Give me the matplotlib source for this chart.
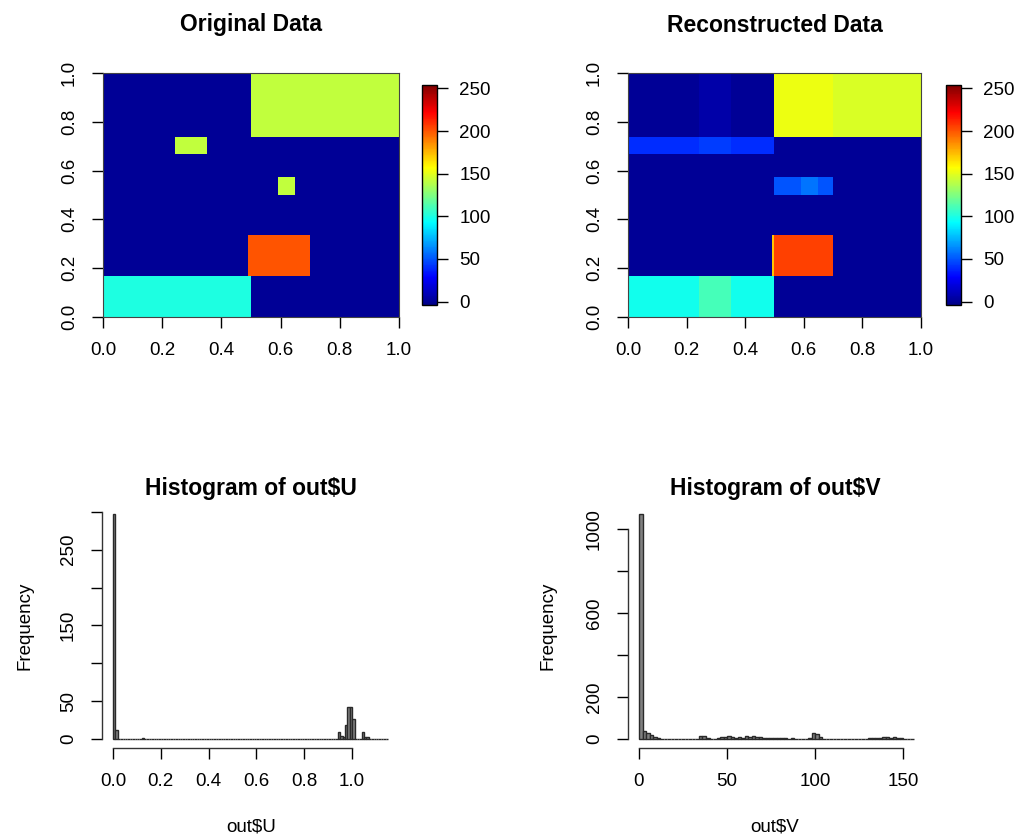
import numpy as np
import matplotlib
matplotlib.use("Agg")
import matplotlib.pyplot as plt
from matplotlib.colors import LinearSegmentedColormap

plt.rcParams['font.family'] = ['Liberation Sans', 'DejaVu Sans']

# --- heatmap blocks (x0, x1, y0, y1, value) ---
orig_x0 = [0.50, 0.245, 0.59, 0.49, 0.00]
orig_x1 = [1.00, 0.350, 0.65, 0.70, 0.50]
orig_y0 = [0.734, 0.664, 0.50, 0.166, 0.00]
orig_y1 = [1.000, 0.734, 0.57, 0.336, 0.166]
orig_val = [142, 142, 142, 200, 100]

rec_x0 = [0.245, 0.50, 0.70, 0.00, 0.245, 0.50, 0.59, 0.49, 0.50, 0.00, 0.245]
rec_x1 = [0.350, 0.70, 1.00, 0.50, 0.350, 0.70, 0.65, 0.50, 0.70, 0.50, 0.350]
rec_y0 = [0.734, 0.734, 0.734, 0.664, 0.664, 0.50, 0.50, 0.166, 0.166, 0.00, 0.00]
rec_y1 = [1.000, 1.000, 1.000, 0.734, 0.734, 0.57, 0.57, 0.336, 0.336, 0.166, 0.166]
rec_val = [6, 153, 148, 40, 44, 50, 58, 172, 205, 97, 110]

background = 1

# --- histogram of out$U (bin width 0.01, 0 .. 1.15) ---
u_bin_start = [0.00, 0.01, 0.12, 0.94, 0.95, 0.96, 0.97, 0.98, 0.99, 1.00, 1.04, 1.05, 1.06]
u_counts = [297, 12, 1, 9, 4, 2, 18, 42, 42, 27, 9, 3, 3]

# --- histogram of out$V (bin width 2, 0 .. 156) ---
v_counts = [1070, 36, 28, 17, 8, 3, 2, 1, 0, 1, 0, 1, 0, 1, 0, 1, 2, 12, 12, 4,
            0, 2, 3, 8, 10, 14, 10, 6, 8, 5, 14, 8, 14, 10, 8, 5, 4, 3, 5, 4,
            6, 3, 2, 3, 2, 1, 1, 2, 4, 28, 22, 10, 2, 1, 1, 0, 1, 0, 1, 0,
            1, 0, 2, 1, 2, 3, 4, 5, 6, 8, 9, 7, 8, 5, 3, 2, 1, 1]

# tim.colors-like palette
tim = LinearSegmentedColormap.from_list('tim', [
    (0.0, (0, 0, 0.53)), (0.125, (0, 0, 1)), (0.375, (0, 1, 1)),
    (0.625, (1, 1, 0)), (0.875, (1, 0, 0)), (1.0, (0.5, 0, 0))])

W, H = 1019, 838
fig = plt.figure(figsize=(W / 100, H / 100), dpi=100)


def px_axes(l, t, r, b):
    return fig.add_axes([l / W, 1 - b / H, (r - l) / W, (b - t) / H])


def px_text(x, y, s, **kw):
    fig.text(x / W, 1 - y / H, s, ha='center', va='center', **kw)


def block_image(x0, x1, y0, y1, vals, n=300):
    c = (np.arange(n) + 0.5) / n
    X, Y = np.meshgrid(c, c)
    img = np.full((n, n), float(background))
    for a, b, c0, d, v in zip(x0, x1, y0, y1, vals):
        img[(X >= a) & (X < b) & (Y >= c0) & (Y < d)] = v
    return img


fs = 13.5
tfs = 16.5
ticks01 = np.arange(0, 1.01, 0.2)
labs01 = ['%.1f' % t for t in ticks01]


def heat(ax_box, cb_box, img, title, tx):
    ax = px_axes(*ax_box)
    im = ax.imshow(img, origin='lower', extent=(0, 1, 0, 1), cmap=tim,
                   vmin=-4, vmax=254, aspect='auto', interpolation='nearest')
    ax.set_xticks(ticks01)
    ax.set_xticklabels(labs01)
    ax.set_yticks(ticks01)
    ax.set_yticklabels(labs01, rotation=90, va='center')
    ax.tick_params(direction='out', length=8, width=1, pad=10, labelsize=fs)
    for s in ax.spines.values():
        s.set_linewidth(0.8)
        s.set_color('#444444')
    cax = px_axes(*cb_box)
    cb = fig.colorbar(im, cax=cax, ticks=[0, 50, 100, 150, 200, 250])
    cax.tick_params(length=8, width=1, pad=8, labelsize=fs)
    cb.outline.set_linewidth(1)
    px_text(tx, 25, title, fontsize=tfs, fontweight='bold')


heat((103, 73, 399, 317), (422, 85, 437, 305),
     block_image(orig_x0, orig_x1, orig_y0, orig_y1, orig_val), 'Original Data', 251)
heat((628, 73, 921, 317), (946, 85, 961, 305),
     block_image(rec_x0, rec_x1, rec_y0, rec_y1, rec_val), 'Reconstructed Data', 775)


def r_hist(ax, edges, counts, xlim, ylim, xb, yb, xticks, xlabs, yticks, ylabs):
    ax.hist(edges[:-1] + np.diff(edges) / 2, bins=edges, weights=counts,
            facecolor='#808080', edgecolor='#2a2a2a', linewidth=1)
    ax.set_xlim(*xlim)
    ax.set_ylim(*ylim)
    ax.spines['top'].set_visible(False)
    ax.spines['right'].set_visible(False)
    ax.spines['left'].set_bounds(*yb)
    ax.spines['bottom'].set_bounds(*xb)
    for s in ('left', 'bottom'):
        ax.spines[s].set_linewidth(1)
        ax.spines[s].set_color('#333333')
    ax.set_xticks(xticks)
    ax.set_xticklabels(xlabs)
    ax.set_yticks(yticks)
    ax.set_yticklabels(ylabs, rotation=90, va='center')
    ax.tick_params(direction='out', length=8, width=1, pad=10, labelsize=fs)


u_edges = np.round(np.arange(0, 1.1501, 0.01), 2)
u_full = np.zeros(len(u_edges) - 1)
for b0, c in zip(u_bin_start, u_counts):
    u_full[int(round(b0 * 100))] = c

ax3 = px_axes(102, 505, 399, 748)
r_hist(ax3, u_edges, u_full, (-0.046, 1.196), (-11.9, 309), (0, 1), (0, 300),
       ticks01, labs01, [0, 50, 100, 150, 200, 250, 300],
       ['0', '50', '', '150', '', '250', ''])
px_text(251, 488, 'Histogram of out$U', fontsize=tfs, fontweight='bold')
px_text(251, 827, 'out$U', fontsize=fs)
px_text(25, 626, 'Frequency', fontsize=fs, rotation=90)

v_edges = np.arange(0, 2 * len(v_counts) + 1, 2)
ax4 = px_axes(628, 505, 925, 748)
r_hist(ax4, v_edges, np.array(v_counts, float), (-6.24, 162.24), (-42.8, 1112.8),
       (0, 150), (0, 1000), [0, 50, 100, 150], ['0', '50', '100', '150'],
       [0, 200, 400, 600, 800, 1000], ['0', '200', '', '600', '', '1000'])
px_text(775, 488, 'Histogram of out$V', fontsize=tfs, fontweight='bold')
px_text(775, 827, 'out$V', fontsize=fs)
px_text(548, 626, 'Frequency', fontsize=fs, rotation=90)

fig.savefig('out.png', dpi=100)
